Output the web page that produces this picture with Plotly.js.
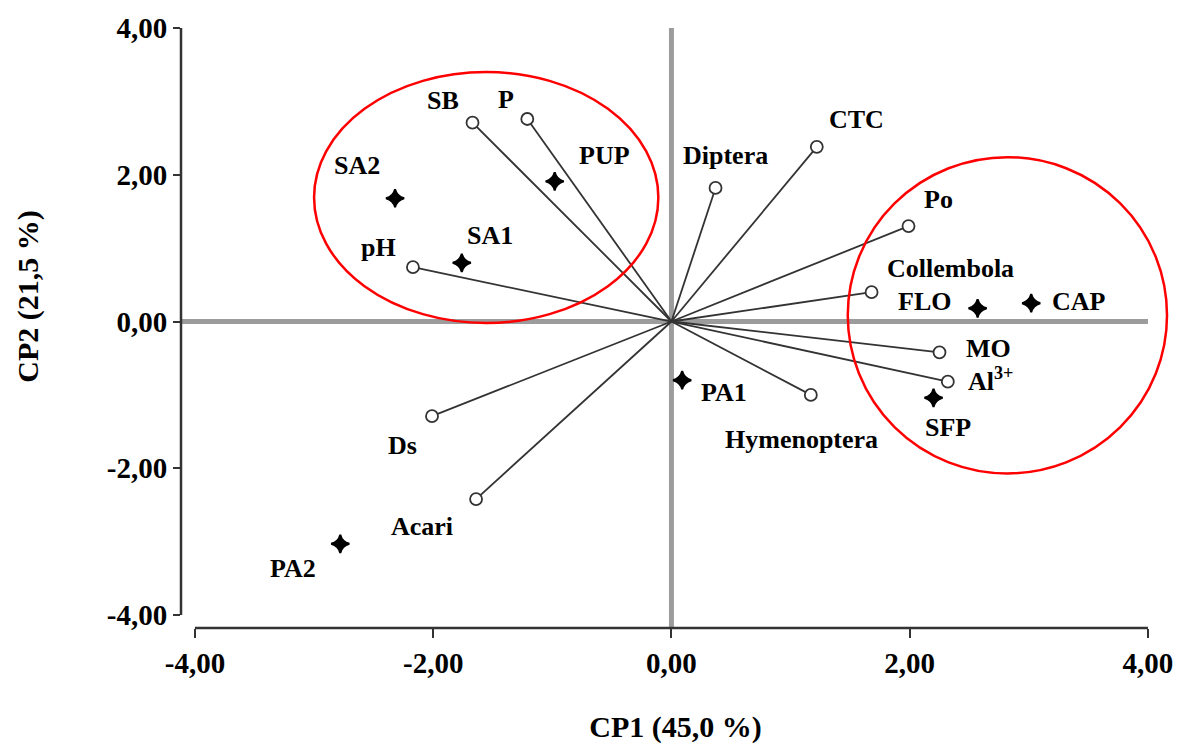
<!DOCTYPE html>
<html>
<head>
<meta charset="utf-8">
<script src="https://cdn.plot.ly/plotly-3.0.1.min.js"></script>
<style>
html,body{margin:0;padding:0;background:#fff;}
#chart{width:1180px;height:744px;}
</style>
</head>
<body>
<div id="chart"></div>
<script>
// Variables (vectors, open circles)
var varNames = ['SB','P','Diptera','CTC','Po','Collembola','MO','Al<sup>3+</sup>','Hymenoptera','pH','Ds','Acari'];
var varX = [-1.67,-1.21,0.37,1.22,1.99,1.68,2.25,2.32,1.17,-2.17,-2.01,-1.64];
var varY = [2.71,2.76,1.82,2.38,1.30,0.40,-0.42,-0.82,-1.00,0.74,-1.29,-2.42];

// Samples (filled markers)
var smpNames = ['SA2','PUP','SA1','FLO','CAP','PA1','SFP','PA2'];
var smpX = [-2.32,-0.98,-1.76,2.57,3.02,0.09,2.20,-2.78];
var smpY = [1.68,1.91,0.80,0.18,0.25,-0.80,-1.04,-3.03];

var tickVals = [-4,-2,0,2,4];
var tickText = ['-4,00','-2,00','0,00','2,00','4,00'];
var xTitle = 'CP1 (45,0 %)';
var yTitle = 'CP2 (21,5 %)';

// Groups outlined by red ellipses: [xmin, xmax, ymin, ymax]
var groupLeft = [-3.00,-0.11,-0.02,3.40];
var groupRight = [1.48,4.16,-2.07,2.24];

// ---- label pixel offsets (layout only) ----
var varOff = {
  'SB':[-30,-22],'P':[-21,-19],'Diptera':[10,-32],'CTC':[40,-27],'Po':[30,-27],
  'Collembola':[79,-24],'MO':[49,-4],'Al<sup>3+</sup>':[43,-2],'Hymenoptera':[-9,45],
  'pH':[-34,-20],'Ds':[-30,29],'Acari':[-54,27]
};
var smpOff = {
  'SA2':[-38,-33],'PUP':[50,-26],'SA1':[28,-27],'FLO':[-53,-7],'CAP':[48,-2],
  'PA1':[42,12],'SFP':[14,30],'PA2':[-47,25]
};

var XR = [-4.117, 4.185];
var YR = [-4.177, 4.109];
var serif = 'Liberation Serif, Times New Roman, serif';

var traces = [];
// vectors from origin
for (var i = 0; i < varX.length; i++) {
  traces.push({
    type:'scatter', mode:'lines', x:[0,varX[i]], y:[0,varY[i]],
    line:{color:'#333333', width:1.8}, hoverinfo:'skip', showlegend:false
  });
}
traces.push({
  type:'scatter', mode:'markers', x:varX, y:varY, text:varNames,
  marker:{symbol:'circle', size:12, color:'#ffffff', line:{color:'#333333', width:1.8}},
  showlegend:false, hoverinfo:'text'
});
traces.push({
  type:'scatter', mode:'markers', x:smpX, y:smpY, text:smpNames,
  marker:{symbol:'star-diamond', size:13, color:'#000000', line:{color:'#000000', width:2}},
  showlegend:false, hoverinfo:'text'
});

var annotations = [];
function addLabels(names, xs, ys, off) {
  for (var i = 0; i < names.length; i++) {
    var o = off[names[i]];
    annotations.push({
      x: xs[i], y: ys[i], xref:'x', yref:'y', text:'<b>'+names[i]+'</b>', showarrow:false,
      xshift:o[0], yshift:-o[1], xanchor:'center', yanchor:'middle',
      font:{family:serif, size:26, color:'#000', weight:'bold'}
    });
  }
}
addLabels(varNames, varX, varY, varOff);
addLabels(smpNames, smpX, smpY, smpOff);

annotations.push({
  xref:'paper', yref:'paper', x:-0.155, y:0.5 + 27/608, text:'<b>'+yTitle+'</b>', showarrow:false,
  textangle:-90, xanchor:'center', yanchor:'middle',
  font:{family:serif, size:30, color:'#000', weight:'bold'}
});

var shapes = [
  // zero lines
  {type:'line', xref:'x', yref:'y', x0:0, x1:0, y0:YR[0]-0.2, y1:4, layer:'below',
   line:{color:'#9c9c9c', width:5}},
  {type:'line', xref:'x', yref:'y', x0:XR[0]-0.2, x1:4, y0:0, y1:0, layer:'below',
   line:{color:'#9c9c9c', width:5}},
  // axis lines
  {type:'line', xref:'paper', yref:'y', x0:0, x1:0, y0:-4, y1:4,
   line:{color:'#333', width:2.5}},
  {type:'line', xref:'x', yref:'paper', x0:-4, x1:4, y0:0, y1:0,
   line:{color:'#333', width:2.5}},
  // group ellipses
  {type:'circle', xref:'x', yref:'y', x0:groupLeft[0], x1:groupLeft[1], y0:groupLeft[2], y1:groupLeft[3],
   line:{color:'#ff0000', width:2.5}, layer:'above'},
  {type:'circle', xref:'x', yref:'y', x0:groupRight[0], x1:groupRight[1], y0:groupRight[2], y1:groupRight[3],
   line:{color:'#ff0000', width:2.5}, layer:'above'}
];

var layout = {
  width:1180, height:744,
  margin:{l:181, r:10, t:20, b:116},
  paper_bgcolor:'#fff', plot_bgcolor:'#fff',
  separators:',.',
  showlegend:false,
  xaxis:{
    range:XR, tickmode:'array', tickvals:tickVals, ticktext:tickText,
    showgrid:false, zeroline:false, showline:false,
    ticks:'outside', ticklen:9, tickwidth:2, tickcolor:'#333',
    tickfont:{family:serif, size:29, color:'#000', weight:'bold'},
    title:{text:'<b>'+xTitle+'</b>', font:{family:serif, size:30, color:'#000', weight:'bold'}, standoff:40},
    fixedrange:true
  },
  yaxis:{
    range:YR, tickmode:'array', tickvals:tickVals, ticktext:tickText,
    showgrid:false, zeroline:false, showline:false,
    ticks:'outside', ticklen:7, tickwidth:2, tickcolor:'#333',
    tickfont:{family:serif, size:29, color:'#000', weight:'bold'},
    fixedrange:true
  },
  shapes:shapes,
  annotations:annotations
};

Plotly.newPlot('chart', traces, layout, {displayModeBar:false, staticPlot:true});
</script>
</body>
</html>
